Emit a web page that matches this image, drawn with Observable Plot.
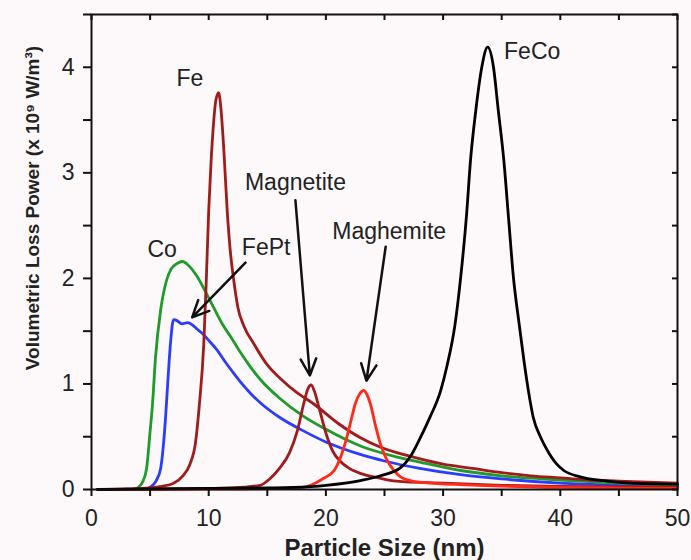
<!DOCTYPE html>
<html>
<head>
<meta charset="utf-8">
<script src="https://cdn.jsdelivr.net/npm/d3@7"></script>
<script src="https://cdn.jsdelivr.net/npm/@observablehq/plot@0.6"></script>
<style>
  html, body { margin: 0; padding: 0; background: #fdf8fa; }
  #chart { width: 691px; height: 560px; }
</style>
</head>
<body>
<div id="chart"></div>
<script>
// ---- Data ----
const feX = [0.5, 3, 5, 6, 7, 7.8, 8.4, 8.87, 9.2, 9.58, 9.8, 10.0, 10.2, 10.4, 10.6, 10.85, 11.05, 11.3, 11.58, 11.85, 12.14, 12.5, 13.0, 13.85, 15.0, 16.13, 17.5, 18.97, 21.0, 22.95, 24.66, 27.0, 30.0, 32.5, 35.0, 37.5, 40.0, 42.5, 45.0, 47.5, 50.0];
const feY = [0.0, 0.005, 0.015, 0.03, 0.06, 0.13, 0.24, 0.44, 0.8, 1.38, 2.0, 2.64, 3.1, 3.45, 3.68, 3.76, 3.6, 3.2, 2.64, 2.25, 1.98, 1.72, 1.55, 1.38, 1.18, 1.05, 0.92, 0.81, 0.63, 0.49, 0.40, 0.32, 0.24, 0.2, 0.16, 0.13, 0.11, 0.09, 0.08, 0.07, 0.06];

const coX = [3.5, 4.0, 4.4, 4.7, 5.0, 5.2, 5.46, 5.9, 6.4, 6.8, 7.3, 7.75, 8.3, 9.0, 9.7, 10.44, 11.2, 11.86, 12.7, 13.57, 14.42, 16.1, 18.0, 20.0, 23.0, 26.0, 28.0, 31.5, 35.0, 40.0, 45.0, 50.0];
const coY = [0.0, 0.02, 0.08, 0.2, 0.55, 0.8, 1.25, 1.7, 1.98, 2.09, 2.14, 2.16, 2.12, 2.02, 1.88, 1.72, 1.56, 1.45, 1.3, 1.16, 1.04, 0.86, 0.7, 0.57, 0.41, 0.31, 0.26, 0.18, 0.13, 0.09, 0.06, 0.04];

const fePtX = [4.5, 5.0, 5.5, 5.9, 6.3, 6.5, 6.75, 7.0, 7.3, 7.7, 8.2, 8.6, 9.0, 9.44, 10.1, 10.72, 11.4, 12.14, 12.85, 13.57, 14.42, 16.1, 18.0, 20.0, 23.0, 25.0, 28.0, 31.5, 35.0, 40.0, 45.0, 50.0];
const fePtY = [0.0, 0.02, 0.08, 0.2, 0.65, 1.0, 1.4, 1.61, 1.6, 1.57, 1.58, 1.56, 1.52, 1.48, 1.4, 1.32, 1.21, 1.1, 1.0, 0.91, 0.82, 0.68, 0.56, 0.45, 0.33, 0.27, 0.2, 0.14, 0.1, 0.06, 0.04, 0.03];

const magnetiteX = [1, 8, 12, 14.4, 15.2, 16.1, 16.9, 17.55, 18.1, 18.45, 18.74, 19.05, 19.4, 20.1, 20.6, 21.2, 22.0, 23.0, 24.5, 26.0, 30.0, 35.0, 40.0, 50.0];
const magnetiteY = [0.0, 0.005, 0.015, 0.04, 0.1, 0.21, 0.35, 0.55, 0.81, 0.95, 0.99, 0.92, 0.78, 0.5, 0.36, 0.27, 0.2, 0.15, 0.11, 0.08, 0.06, 0.04, 0.03, 0.02];

const maghemiteX = [1, 10, 16, 18.0, 18.7, 19.7, 20.7, 21.3, 21.8, 22.2, 22.5, 22.9, 23.23, 23.5, 23.8, 24.2, 24.66, 25.2, 25.8, 26.5, 27.2, 29.0, 33.0, 40.0, 50.0];
const maghemiteY = [0.0, 0.003, 0.01, 0.02, 0.04, 0.1, 0.18, 0.32, 0.5, 0.68, 0.81, 0.91, 0.94, 0.9, 0.81, 0.62, 0.43, 0.28, 0.18, 0.11, 0.085, 0.06, 0.04, 0.02, 0.01];

const feCoX = [0.5, 5, 10, 15, 17.26, 20, 22.95, 24.66, 26.4, 27.3, 28.1, 28.9, 29.8, 30.35, 31.0, 31.5, 32.0, 32.34, 32.8, 33.3, 33.8, 34.3, 34.7, 35.18, 35.6, 36.0, 36.45, 36.9, 37.3, 37.7, 38.3, 38.9, 39.7, 40.3, 41.7, 44, 46, 50];
const feCoY = [0.0, 0.005, 0.01, 0.015, 0.02, 0.04, 0.085, 0.13, 0.21, 0.33, 0.5, 0.69, 0.94, 1.18, 1.55, 2.01, 2.6, 3.12, 3.6, 4.0, 4.19, 4.0, 3.6, 3.12, 2.55, 2.01, 1.6, 1.22, 0.92, 0.68, 0.5, 0.37, 0.24, 0.18, 0.12, 0.08, 0.06, 0.05];

// series names and colours
const seriesNames = ["FePt", "Co", "Fe", "Magnetite", "Maghemite", "FeCo"];
const seriesColors = ["#2b3cff", "#1e9b2a", "#a01c1c", "#a01c1c", "#ff2a18", "#000000"];

// in-plot labels
const labelText = ["Fe", "Co", "FePt", "Magnetite", "Maghemite", "FeCo"];
const labelX = [8.4, 6.03, 14.9, 17.4, 25.4, 37.6];
const labelY = [3.89, 2.27, 2.29, 2.91, 2.44, 4.15];

// arrows (FePt, Magnetite, Maghemite)
const arrowX1 = [13.14, 17.4, 25.1];
const arrowY1 = [2.15, 2.74, 2.30];
const arrowX2 = [8.59, 18.63, 23.46];
const arrowY2 = [1.63, 1.08, 1.03];

// axis ticks / titles
const xTicks = [0, 5, 10, 15, 20, 25, 30, 35, 40, 45, 50];
const yTicks = [0, 0.5, 1, 1.5, 2, 2.5, 3, 3.5, 4, 4.5];
const xTitle = "Particle Size (nm)";
const yTitle = "Volumetric Loss Power (x 10\u2079 W/m\u00B3)";

// ---- Build tables ----
const xs = [fePtX, coX, feX, magnetiteX, maghemiteX, feCoX];
const ys = [fePtY, coY, feY, magnetiteY, maghemiteY, feCoY];
const lines = seriesNames.flatMap((name, i) => xs[i].map((x, j) => ({series: name, x, y: ys[i][j]})));
const labels = labelText.map((t, i) => ({t, x: labelX[i], y: labelY[i]}));
const arrows = arrowX1.map((x1, i) => ({x1, y1: arrowY1[i], x2: arrowX2[i], y2: arrowY2[i]}));

const chart = Plot.plot({
  width: 691,
  height: 560,
  marginLeft: 91,
  marginRight: 14,
  marginTop: 14,
  marginBottom: 71,
  style: {background: "#fdf8fa", fontFamily: "'Liberation Sans', Arial, sans-serif", fontSize: "23px", color: "#222"},
  x: {domain: [0, 50]},
  y: {domain: [0, 4.5]},
  color: {domain: seriesNames, range: seriesColors},
  marks: [
    ...seriesNames.map(name => Plot.line(lines.filter(d => d.series === name), {
      x: "x", y: "y", stroke: "series", strokeWidth: 2.8, curve: "monotone-x"
    })),
    Plot.arrow(arrows, {x1: "x1", y1: "y1", x2: "x2", y2: "y2", stroke: "#111", strokeWidth: 2.5, headLength: 11, headAngle: 50}),
    Plot.text(labels, {x: "x", y: "y", text: "t", fontSize: 23, fill: "#222"}),
    Plot.frame({stroke: "#111", strokeWidth: 2}),
    Plot.axisX({ticks: xTicks, tickSize: 7, tickPadding: 13, tickFormat: d => d % 10 === 0 ? String(d) : "", label: null, stroke: "#111", strokeWidth: 2}),
    Plot.axisX({anchor: "top", ticks: xTicks, tickSize: -5, tickFormat: () => "", label: null, stroke: "#111", strokeWidth: 2}),
    Plot.axisY({ticks: yTicks, tickSize: 8, tickPadding: 9, tickFormat: d => Number.isInteger(d) ? String(d) : "", label: null, stroke: "#111", strokeWidth: 2}),
    Plot.axisY({anchor: "right", ticks: yTicks, tickSize: -6, tickFormat: () => "", label: null, stroke: "#111", strokeWidth: 2}),
    Plot.text([xTitle], {frameAnchor: "bottom", lineAnchor: "middle", textAnchor: "middle", dy: 59, fontSize: 24, fontWeight: "bold", fill: "#222"}),
    Plot.text([yTitle], {frameAnchor: "left", lineAnchor: "middle", textAnchor: "middle", rotate: -90, dx: -59, dy: -44, fontSize: 19, fontWeight: "bold", fill: "#222"})
  ]
});
document.getElementById("chart").appendChild(chart);
</script>
</body>
</html>
